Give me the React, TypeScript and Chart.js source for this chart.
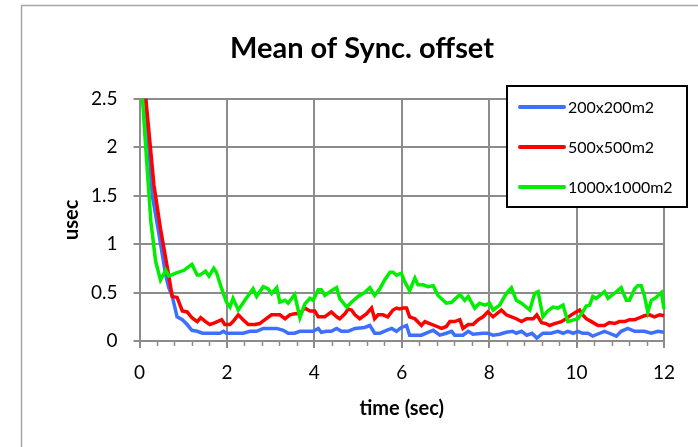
import React, { useEffect, useRef } from "react";
import { Chart, registerables } from "chart.js";

Chart.register(...registerables);

const chartTitle = "Mean of Sync. offset";
const xTitle = "time (sec)";
const yTitle = "usec";
const seriesNames = ["200x200m2", "500x500m2", "1000x1000m2"];
const seriesColors = ["#3d70ff", "#ff0000", "#00ee00"];

const xMin = 0;
const xMax = 12;
const xStep = 2;
const xMinorStep = 0.4;
const yMin = 0;
const yMax = 2.5;
const yStep = 0.5;

// 200x200m2 (blue)
const blueT = [0, 0.29, 0.45, 0.6, 0.67, 0.75, 0.86, 0.98, 1.09, 1.2, 1.32, 1.44, 1.84, 1.92, 1.99, 2.37, 2.53, 2.68, 2.83, 3.14, 3.29, 3.4, 3.55, 3.67, 3.97, 4.09, 4.16, 4.28, 4.39, 4.51, 4.62, 4.77, 4.93, 5.15, 5.27, 5.38, 5.5, 5.65, 5.77, 5.88, 5.99, 6.11, 6.18, 6.3, 6.45, 6.6, 6.72, 6.87, 7.02, 7.14, 7.21, 7.4, 7.52, 7.63, 7.86, 7.97, 8.09, 8.24, 8.39, 8.54, 8.62, 8.74, 8.86, 8.98, 9.09, 9.23, 9.42, 9.57, 9.69, 9.8, 9.92, 10.03, 10.14, 10.26, 10.37, 10.53, 10.64, 10.75, 10.91, 11.02, 11.17, 11.33, 11.55, 11.71, 11.86, 12];
const blueV = [3.4, 1.51, 1.09, 0.68, 0.55, 0.46, 0.25, 0.22, 0.17, 0.11, 0.10, 0.08, 0.08, 0.10, 0.08, 0.08, 0.10, 0.10, 0.13, 0.13, 0.11, 0.08, 0.08, 0.10, 0.10, 0.13, 0.09, 0.10, 0.10, 0.13, 0.10, 0.10, 0.13, 0.14, 0.16, 0.08, 0.08, 0.11, 0.13, 0.10, 0.14, 0.16, 0.06, 0.06, 0.06, 0.09, 0.11, 0.06, 0.08, 0.10, 0.06, 0.06, 0.10, 0.07, 0.08, 0.08, 0.06, 0.07, 0.09, 0.10, 0.08, 0.10, 0.06, 0.08, 0.03, 0.08, 0.08, 0.10, 0.08, 0.10, 0.08, 0.10, 0.08, 0.08, 0.05, 0.08, 0.10, 0.08, 0.05, 0.10, 0.13, 0.10, 0.10, 0.08, 0.10, 0.09];

// 500x500m2 (red)
const redT = [0, 0.33, 0.48, 0.64, 0.75, 0.86, 0.98, 1.09, 1.2, 1.32, 1.4, 1.51, 1.61, 1.73, 1.88, 1.95, 2.07, 2.14, 2.26, 2.37, 2.49, 2.64, 2.75, 2.87, 3.02, 3.21, 3.33, 3.44, 3.55, 3.67, 3.78, 3.9, 4.01, 4.09, 4.24, 4.39, 4.51, 4.58, 4.7, 4.77, 4.85, 4.93, 5.04, 5.19, 5.31, 5.38, 5.46, 5.57, 5.68, 5.8, 5.88, 5.95, 6.03, 6.11, 6.18, 6.3, 6.45, 6.53, 6.64, 6.75, 6.91, 7.02, 7.1, 7.21, 7.33, 7.4, 7.52, 7.63, 7.75, 7.86, 7.97, 8.09, 8.28, 8.39, 8.51, 8.62, 8.74, 8.86, 9.01, 9.09, 9.2, 9.3, 9.38, 9.5, 9.65, 9.76, 9.88, 9.99, 10.07, 10.14, 10.22, 10.34, 10.49, 10.64, 10.75, 10.87, 10.98, 11.1, 11.21, 11.33, 11.44, 11.55, 11.67, 11.78, 11.9, 12];
const redV = [3.2, 1.61, 1.16, 0.75, 0.46, 0.45, 0.31, 0.30, 0.24, 0.20, 0.24, 0.20, 0.17, 0.19, 0.22, 0.17, 0.17, 0.20, 0.27, 0.22, 0.17, 0.17, 0.18, 0.22, 0.27, 0.27, 0.23, 0.27, 0.28, 0.28, 0.34, 0.31, 0.31, 0.25, 0.25, 0.30, 0.25, 0.23, 0.28, 0.33, 0.32, 0.27, 0.23, 0.28, 0.34, 0.23, 0.27, 0.27, 0.25, 0.32, 0.34, 0.33, 0.34, 0.34, 0.25, 0.23, 0.16, 0.20, 0.18, 0.16, 0.13, 0.15, 0.20, 0.20, 0.22, 0.13, 0.17, 0.17, 0.22, 0.25, 0.30, 0.25, 0.32, 0.27, 0.25, 0.23, 0.20, 0.23, 0.23, 0.27, 0.19, 0.18, 0.16, 0.18, 0.20, 0.23, 0.27, 0.30, 0.32, 0.27, 0.23, 0.20, 0.16, 0.16, 0.19, 0.18, 0.20, 0.20, 0.22, 0.22, 0.24, 0.26, 0.27, 0.25, 0.27, 0.26];

// 1000x1000m2 (green)
const greenT = [0, 0.18, 0.26, 0.37, 0.48, 0.6, 0.67, 0.83, 1.02, 1.2, 1.32, 1.38, 1.51, 1.59, 1.7, 1.76, 1.88, 1.99, 2.07, 2.14, 2.26, 2.41, 2.6, 2.68, 2.83, 2.94, 3.02, 3.14, 3.21, 3.33, 3.4, 3.55, 3.67, 3.78, 3.9, 3.97, 4.09, 4.16, 4.24, 4.39, 4.51, 4.58, 4.74, 4.85, 5.0, 5.15, 5.27, 5.38, 5.5, 5.61, 5.73, 5.8, 5.88, 5.99, 6.07, 6.18, 6.3, 6.37, 6.49, 6.6, 6.72, 6.83, 7.02, 7.14, 7.33, 7.44, 7.52, 7.67, 7.78, 7.9, 8.01, 8.09, 8.24, 8.39, 8.51, 8.62, 8.74, 8.93, 9.04, 9.12, 9.23, 9.34, 9.46, 9.57, 9.69, 9.8, 9.95, 10.03, 10.14, 10.22, 10.3, 10.37, 10.45, 10.53, 10.64, 10.72, 10.83, 11.02, 11.14, 11.21, 11.33, 11.4, 11.48, 11.55, 11.63, 11.71, 11.82, 11.94, 12];
const greenV = [2.95, 1.75, 1.23, 0.82, 0.63, 0.73, 0.67, 0.70, 0.73, 0.79, 0.68, 0.68, 0.72, 0.67, 0.75, 0.71, 0.54, 0.40, 0.35, 0.44, 0.32, 0.42, 0.54, 0.46, 0.56, 0.54, 0.49, 0.55, 0.40, 0.42, 0.39, 0.48, 0.24, 0.38, 0.44, 0.42, 0.53, 0.53, 0.47, 0.52, 0.55, 0.44, 0.35, 0.40, 0.46, 0.50, 0.55, 0.47, 0.54, 0.63, 0.71, 0.71, 0.68, 0.70, 0.61, 0.52, 0.65, 0.58, 0.58, 0.56, 0.57, 0.47, 0.39, 0.40, 0.48, 0.42, 0.46, 0.34, 0.39, 0.37, 0.39, 0.32, 0.37, 0.49, 0.55, 0.42, 0.39, 0.32, 0.49, 0.51, 0.25, 0.31, 0.35, 0.34, 0.37, 0.20, 0.22, 0.23, 0.30, 0.36, 0.37, 0.46, 0.44, 0.47, 0.51, 0.44, 0.48, 0.55, 0.42, 0.42, 0.54, 0.57, 0.57, 0.47, 0.30, 0.42, 0.45, 0.50, 0.33];

const zip = (t: number[], v: number[]) => t.map((x, i) => ({ x, y: v[i] }));

const GRID = "#8c8c8c";
const FONT = "Lato, 'Open Sans', sans-serif";

export default function App() {
  const ref = useRef<HTMLCanvasElement>(null);

  useEffect(() => {
    document.body.style.margin = "0";
    const canvas = ref.current;
    if (!canvas) return;

    const framePlugin = {
      id: "frame",
      beforeDraw(chart: any) {
        const ctx = chart.ctx;
        ctx.save();
        ctx.fillStyle = "#ffffff";
        ctx.fillRect(0, 0, chart.width, chart.height);
        ctx.strokeStyle = "#a6a6a6";
        ctx.lineWidth = 1.5;
        ctx.strokeRect(21.5, 5.5, chart.width + 100, chart.height + 100);
        ctx.restore();
      },
    };

    const minorTickPlugin = {
      id: "minorTicks",
      beforeDatasetsDraw(chart: any) {
        const ctx = chart.ctx;
        const xs = chart.scales.x;
        const bottom = chart.chartArea.bottom;
        ctx.save();
        ctx.strokeStyle = GRID;
        ctx.lineWidth = 1.5;
        const n = Math.round((xMax - xMin) / xMinorStep);
        for (let i = 1; i < n; i++) {
          const v = xMin + i * xMinorStep;
          const r = v / xStep;
          if (Math.abs(r - Math.round(r)) < 1e-6) continue;
          const px = Math.round(xs.getPixelForValue(v)) + 0.5;
          ctx.beginPath();
          ctx.moveTo(px, bottom);
          ctx.lineTo(px, bottom + 5);
          ctx.stroke();
        }
        ctx.restore();
      },
    };

    const legendPlugin = {
      id: "boxLegend",
      afterDraw(chart: any) {
        const ctx = chart.ctx;
        const left = 507;
        const top = 86;
        const w = 180;
        const h = 121;
        ctx.save();
        ctx.fillStyle = "#ffffff";
        ctx.fillRect(left, top, w, h);
        ctx.strokeStyle = "#000000";
        ctx.lineWidth = 2;
        ctx.strokeRect(left, top, w, h);
        ctx.font = `16px ${FONT}`;
        ctx.textBaseline = "middle";
        ctx.textAlign = "left";
        chart.data.datasets.forEach((ds: any, i: number) => {
          const y = top + 21 + i * 40;
          ctx.strokeStyle = ds.borderColor;
          ctx.lineWidth = 4;
          ctx.lineCap = "round";
          ctx.beginPath();
          ctx.moveTo(520, y);
          ctx.lineTo(564, y);
          ctx.stroke();
          ctx.fillStyle = "#000000";
          ctx.fillText(ds.label, 568, y + 1);
        });
        ctx.restore();
      },
    };

    const series = [zip(blueT, blueV), zip(redT, redV), zip(greenT, greenV)];

    const chart = new Chart(canvas, {
      type: "line",
      data: {
        datasets: series.map((d, i) => ({
          label: seriesNames[i],
          data: d,
          borderColor: seriesColors[i],
          backgroundColor: seriesColors[i],
          borderWidth: 3.5,
          pointRadius: 0,
          tension: 0,
          fill: false,
          order: 3 - i,
          clip: { left: 4, right: 4, top: 0, bottom: 4 },
        })),
      },
      options: {
        animation: false,
        responsive: false,
        parsing: true,
        layout: { padding: { left: 60, right: 34, top: 0, bottom: 26 } },
        plugins: {
          legend: { display: false },
          tooltip: { enabled: false },
          title: {
            display: true,
            text: chartTitle,
            color: "#000000",
            font: { family: FONT, size: 29, weight: "bold" },
            padding: { top: 31, bottom: 33 },
          },
        },
        scales: {
          x: {
            type: "linear",
            min: xMin,
            max: xMax,
            afterFit(scale: any) {
              scale.height = 80;
            },
            ticks: {
              stepSize: xStep,
              color: "#000000",
              font: { family: FONT, size: 19 },
              padding: 13,
              maxRotation: 0,
              autoSkip: false,
              callback: (v: any) => String(Number(v)),
            },
            grid: { color: GRID, lineWidth: 2, tickLength: 7, drawTicks: true },
            border: { color: GRID, width: 2 },
            title: {
              display: true,
              text: xTitle,
              color: "#000000",
              font: { family: FONT, size: 20, weight: "bold" },
              padding: 0,
            },
          },
          y: {
            type: "linear",
            min: yMin,
            max: yMax,
            afterFit(scale: any) {
              scale.width = 79.5;
            },
            ticks: {
              stepSize: yStep,
              color: "#000000",
              font: { family: FONT, size: 19 },
              padding: 16,
              callback: (v: any) => String(Math.round(Number(v) * 100) / 100),
            },
            grid: { color: GRID, lineWidth: 2, tickLength: 6, drawTicks: true },
            border: { color: GRID, width: 2 },
            title: {
              display: true,
              text: yTitle,
              color: "#000000",
              font: { family: FONT, size: 20, weight: "bold" },
              padding: 0,
            },
          },
        },
      },
      plugins: [framePlugin, minorTickPlugin, legendPlugin],
    } as any);

    return () => chart.destroy();
  }, []);

  return (
    <div style={{ width: 698, height: 447, position: "relative" }}>
      <canvas ref={ref} width={698} height={447} style={{ display: "block" }} />
    </div>
  );
}
